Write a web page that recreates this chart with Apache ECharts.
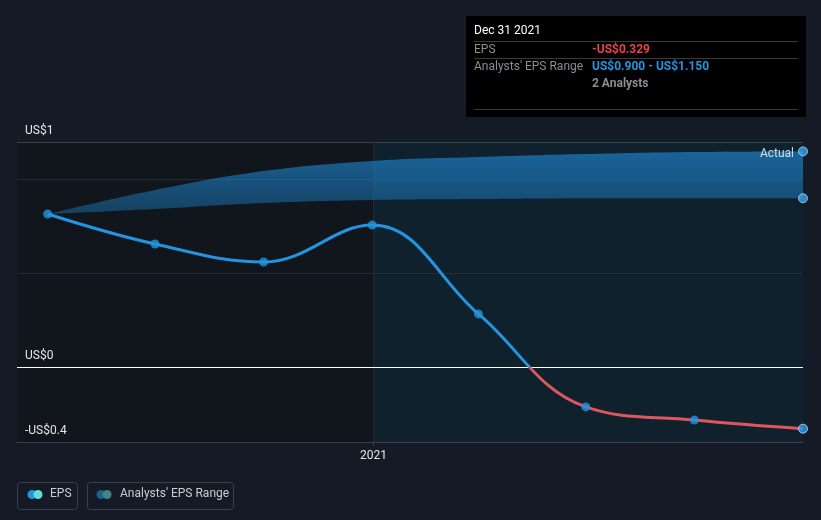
<!DOCTYPE html>
<html><head><meta charset="utf-8">
<script src="https://cdn.jsdelivr.net/npm/echarts@6/dist/echarts.min.js"></script>
<style>html,body{margin:0;padding:0;background:#151b26}#c{width:821px;height:520px}</style>
</head><body><div id="c"></div>
<script>
const dates = ['2020-03-31','2020-06-30','2020-09-30','2020-12-31','2021-03-31','2021-06-30','2021-09-30','2021-12-31'];
const eps = [0.816, 0.656, 0.56, 0.757, 0.283, -0.213, -0.283, -0.329];
const rangeLow = [0.816, 0.843, 0.875, 0.891, 0.896, 0.9, 0.9, 0.9];
const rangeHigh = [0.816, 0.944, 1.045, 1.099, 1.12, 1.136, 1.147, 1.15];
const analystCount = 2;
const yTickValues = [-0.4, 0, 1.2];
const yTickLabels = ['-US$0.4', 'US$0', 'US$1'];
const xTickDates = ['2021-01-01'];
const xTickLabels = ['2021'];
const xMin = '2020-03-05';
const xMax = '2021-12-31';
const tooltipDate = 'Dec 31 2021';

const T = d => new Date(d + 'T00:00:00Z').getTime();
const fmt = v => (v < 0 ? '-' : '') + 'US$' + Math.abs(v).toFixed(3);
const FONT = 'Roboto, "Noto Sans", sans-serif';
const last = dates.length - 1;
const BLUE = '#2394df', RED = '#dc5660';

const chart = echarts.init(document.getElementById('c'), null, {renderer: 'canvas'});
const xTickMs = xTickDates.map(T);

// cardinal-spline path through pixel points
function curve(pts, move) {
  const k = 0.2;
  let s = (move ? 'M' : 'L') + pts[0][0] + ' ' + pts[0][1];
  for (let i = 0; i < pts.length - 1; i++) {
    const p0 = pts[Math.max(i - 1, 0)], p1 = pts[i], p2 = pts[i + 1], p3 = pts[Math.min(i + 2, pts.length - 1)];
    const c1 = [p1[0] + (p2[0] - p0[0]) * k, p1[1] + (p2[1] - p0[1]) * k];
    const c2 = [p2[0] - (p3[0] - p1[0]) * k, p2[1] - (p3[1] - p1[1]) * k];
    s += ' C' + c1[0] + ' ' + c1[1] + ' ' + c2[0] + ' ' + c2[1] + ' ' + p2[0] + ' ' + p2[1];
  }
  return s;
}

const option = {
  backgroundColor: '#151b26',
  animation: false,
  textStyle: {fontFamily: FONT},
  grid: {left: 17, right: 18, top: 142, bottom: 78},
  xAxis: {
    type: 'value', min: T(xMin), max: T(xMax), scale: true, z: 6,
    axisLine: {show: true, onZero: false, lineStyle: {color: '#3b4049', width: 1}},
    axisTick: {show: true, customValues: xTickMs, length: 4, lineStyle: {color: '#3b4049'}},
    axisLabel: {
      customValues: xTickMs, color: '#e6e6e6', fontSize: 12, margin: 8, fontFamily: FONT,
      formatter: v => { const i = xTickMs.indexOf(v); return i >= 0 ? xTickLabels[i] : ''; }
    },
    splitLine: {show: false}
  },
  yAxis: {
    type: 'value', min: -0.4, max: 1.2, z: 6,
    axisLine: {show: false}, axisTick: {show: false},
    axisLabel: {
      customValues: yTickValues, inside: true, margin: 8, color: '#e6e6e6', fontSize: 12,
      fontFamily: FONT, verticalAlign: 'bottom', padding: [0, 0, 5, 0],
      formatter: v => { const i = yTickValues.findIndex(t => Math.abs(t - v) < 1e-9); return i >= 0 ? yTickLabels[i] : ''; }
    },
    splitLine: {show: false}
  },
  series: [
    {
      name: 'bg', type: 'line', data: [], z: 0, silent: true,
      markArea: {
        silent: true, z: 0,
        data: [
          [{xAxis: T(xMin), itemStyle: {color: '#11151c'}}, {xAxis: xTickMs[0]}],
          [{xAxis: xTickMs[0], itemStyle: {color: '#0f212d'}}, {xAxis: T(xMax)}]
        ]
      },
      markLine: {
        silent: true, symbol: 'none', label: {show: false}, z: 0,
        data: [
          {yAxis: 0.5, lineStyle: {color: '#252c36', width: 1, type: 'solid'}},
          {yAxis: 1.0, lineStyle: {color: '#252c36', width: 1, type: 'solid'}},
          {yAxis: 1.2, lineStyle: {color: '#3b4049', width: 1, type: 'solid'}},
          {xAxis: xTickMs[0], lineStyle: {color: '#1e2a33', width: 1, type: 'solid'}}
        ]
      }
    },
    {
      name: "Analysts' EPS Range", type: 'custom', z: 2, silent: true,
      data: dates.map((d, i) => [T(d), rangeLow[i], rangeHigh[i]]),
      encode: {x: 0, y: [1, 2]},
      renderItem: function (params, api) {
        if (params.dataIndexInside !== 0) return null;
        const n = params.dataInsideLength;
        const up = [], lo = [];
        for (let i = 0; i < n; i++) {
          const x = api.value(0, i);
          up.push(api.coord([x, api.value(2, i)]));
          lo.push(api.coord([x, api.value(1, i)]));
        }
        const d = curve(up, true) + ' ' + curve(lo.slice().reverse(), false) + ' Z';
        return {
          type: 'path', shape: {pathData: d},
          style: {
            fill: new echarts.graphic.LinearGradient(0, 0, 0, 1, [
              {offset: 0, color: 'rgba(30,135,210,0.66)'},
              {offset: 1, color: 'rgba(30,135,210,0.38)'}
            ])
          }
        };
      }
    },
    {
      name: 'EPS', type: 'line', smooth: 0.4, z: 4,
      data: dates.map((d, i) => [T(d), eps[i]]),
      symbol: 'none', lineStyle: {width: 3, color: BLUE},
      markLine: {
        silent: true, symbol: 'none', label: {show: false}, z: 3,
        data: [
          {yAxis: 0, lineStyle: {color: '#ffffff', width: 1, type: 'solid'}},
          {yAxis: -0.4, lineStyle: {color: '#3b4049', width: 1, type: 'solid'}}
        ]
      }
    },
    {
      name: 'EPS points', type: 'scatter', z: 5,
      data: dates.map((d, i) => ({
        value: [T(d), eps[i]],
        itemStyle: i === last ? {color: '#2a9be6', borderColor: '#bfe2fa', borderWidth: 1} : {color: BLUE}
      })),
      symbolSize: 9
    },
    {
      name: 'range ends', type: 'scatter', z: 5,
      data: [
        {value: [T(dates[last]), rangeHigh[last]],
         label: {show: true, position: 'left', formatter: 'Actual', color: '#ffffff', fontSize: 12, distance: 4, offset: [0, 3]}},
        {value: [T(dates[last]), rangeLow[last]]}
      ],
      symbolSize: 9, itemStyle: {color: '#3aa3ea', borderColor: '#a9d8f7', borderWidth: 1}
    }
  ],
  graphic: [
    {type: 'rect', left: 466, top: 16, shape: {width: 340, height: 101}, style: {fill: '#000000'}},
    {type: 'text', left: 474, top: 25, style: {text: tooltipDate, fill: '#ffffff', font: '12px ' + FONT}},
    {type: 'line', shape: {x1: 474, y1: 41.5, x2: 798, y2: 41.5}, style: {stroke: '#3a3a3a', lineWidth: 1}},
    {type: 'text', left: 474, top: 44, style: {text: 'EPS', fill: '#8a8d92', font: '12px ' + FONT}},
    {type: 'text', left: 592, top: 44, style: {text: fmt(eps[last]), fill: '#e8424b', font: 'bold 12px ' + FONT}},
    {type: 'line', shape: {x1: 474, y1: 58.5, x2: 798, y2: 58.5}, style: {stroke: '#3a3a3a', lineWidth: 1}},
    {type: 'text', left: 474, top: 61, style: {text: "Analysts' EPS Range", fill: '#8a8d92', font: '12px ' + FONT}},
    {type: 'text', left: 592, top: 61, style: {text: fmt(rangeLow[last]) + ' - ' + fmt(rangeHigh[last]), fill: BLUE, font: 'bold 12px ' + FONT}},
    {type: 'text', left: 592, top: 78, style: {text: analystCount + ' Analysts', fill: '#8a8d92', font: 'bold 12px ' + FONT}},
    {type: 'line', shape: {x1: 474, y1: 109.5, x2: 798, y2: 109.5}, style: {stroke: '#3a3a3a', lineWidth: 1}},

    {type: 'rect', shape: {x: 17.5, y: 482.5, width: 60, height: 27, r: 3}, style: {fill: 'none', stroke: '#3b4049', lineWidth: 1}},
    {type: 'circle', shape: {cx: 32, cy: 494.5, r: 4.5}, style: {fill: BLUE}},
    {type: 'circle', shape: {cx: 38, cy: 494.5, r: 4.5}, style: {fill: '#5fe0d4'}},
    {type: 'text', left: 50, top: 488, style: {text: 'EPS', fill: '#c8ccd2', font: '12px ' + FONT}},
    {type: 'rect', shape: {x: 87.5, y: 482.5, width: 146, height: 27, r: 3}, style: {fill: 'none', stroke: '#3b4049', lineWidth: 1}},
    {type: 'circle', shape: {cx: 101, cy: 494.5, r: 4.5}, style: {fill: '#1f5f8e'}},
    {type: 'circle', shape: {cx: 107, cy: 494.5, r: 4.5}, style: {fill: '#3d8683'}},
    {type: 'text', left: 120, top: 488, style: {text: "Analysts' EPS Range", fill: '#c8ccd2', font: '12px ' + FONT}}
  ]
};
chart.setOption(option);
// colour the EPS line red below zero, using the y axis scale to find the zero pixel
const y0 = chart.convertToPixel({yAxisIndex: 0}, 0);
chart.setOption({series: [{}, {}, {
  lineStyle: {color: new echarts.graphic.LinearGradient(0, y0 - 1, 0, y0 + 1, [
    {offset: 0, color: BLUE}, {offset: 0.5, color: BLUE}, {offset: 0.5, color: RED}, {offset: 1, color: RED}
  ], true)}
}]});
</script></body></html>
